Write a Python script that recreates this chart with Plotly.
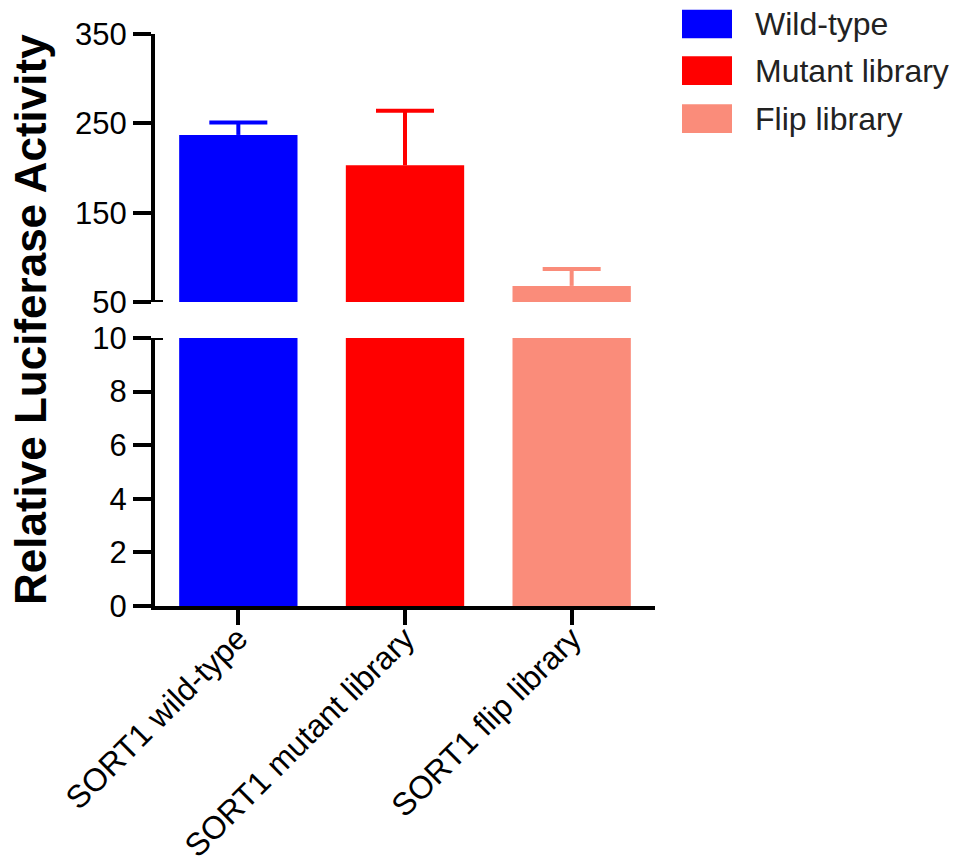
import plotly.graph_objects as go

# ---- data ----
categories = ["SORT1 wild-type", "SORT1 mutant library", "SORT1 flip library"]
series_names = ["Wild-type", "Mutant library", "Flip library"]
values = [237, 203, 68]
errors = [14, 61, 19]
colors = ["#0000FF", "#FF0000", "#FA8C7A"]
lower_ticks = [0, 2, 4, 6, 8, 10]
upper_ticks = [50, 150, 250, 350]
y_title = "Relative Luciferase Activity"

FONT = "Arial, 'Liberation Sans', sans-serif"

fig = go.Figure()
for name, cat, v, e, c in zip(series_names, categories, values, errors, colors):
    # lower segment (0-10)
    fig.add_trace(go.Bar(x=[cat], y=[v], name=name, marker=dict(color=c, line=dict(width=0)),
                         xaxis="x", yaxis="y", showlegend=False, hoverinfo="skip"))
    # upper segment (50-350) with upward error stem (no caps)
    fig.add_trace(go.Bar(x=[cat], y=[v], name=name, marker=dict(color=c, line=dict(width=0)),
                         xaxis="x", yaxis="y2", showlegend=False,
                         error_y=dict(type="data", array=[e], arrayminus=[0], symmetric=False,
                                      color=c, thickness=4, width=0)))
    # cap at the top of the error bar
    fig.add_trace(go.Scatter(x=[cat], y=[v + e], mode="markers", marker=dict(size=1, opacity=0),
                             xaxis="x", yaxis="y2", showlegend=False, hoverinfo="skip",
                             error_y=dict(type="data", array=[0], symmetric=True,
                                          color=c, thickness=4, width=29)))

axis_common = dict(showline=True, linecolor="black", linewidth=4, ticks="outside",
                   ticklen=18, tickwidth=4, tickcolor="black", showgrid=False, zeroline=False,
                   automargin=False,
                   tickfont=dict(family=FONT, size=31, color="black"))

fig.update_layout(
    width=960, height=867,
    margin=dict(l=155, r=305, t=34, b=261),
    plot_bgcolor="white", paper_bgcolor="white",
    barmode="overlay", bargap=0.29,
    xaxis=dict(type="category", categoryorder="array", categoryarray=categories,
               range=[-0.5, 2.5], showline=True, linecolor="black", linewidth=4,
               ticks="outside", ticklen=15, tickwidth=4, tickcolor="black",
               tickangle=-45, showgrid=False, anchor="y", automargin=False,
               ticklabelstandoff=-18,
               tickfont=dict(family=FONT, size=32, color="black")),
    yaxis=dict(domain=[0, 0.4685], range=[0, 10], tickvals=lower_ticks, anchor="x", **axis_common),
    yaxis2=dict(domain=[0.5315, 1], range=[50, 350], tickvals=upper_ticks, anchor="x", **axis_common),
    showlegend=False,
)

# axis break marks (short stubs to the right of the y-axis at the break)
fig.add_shape(type="line", xref="paper", yref="y2", x0=0, x1=0.016, y0=50, y1=50,
              line=dict(color="black", width=4))
fig.add_shape(type="line", xref="paper", yref="y", x0=0, x1=0.016, y0=10, y1=10,
              line=dict(color="black", width=4))

# y-axis title spanning both segments
fig.add_annotation(text="<b>%s</b>" % y_title, xref="paper", yref="paper", x=-0.25, y=0.5,
                   textangle=-90, showarrow=False, xanchor="center", yanchor="middle",
                   font=dict(family=FONT, size=44, color="black"))

# custom legend with large swatches
row_y = [1.0175, 0.936, 0.852]
for name, c, yc in zip(series_names, colors, row_y):
    fig.add_shape(type="rect", xref="paper", yref="paper", x0=1.054, x1=1.154,
                  y0=yc - 0.025, y1=yc + 0.025, fillcolor=c, line=dict(width=0))
    fig.add_annotation(text=name, xref="paper", yref="paper", x=1.196, y=yc,
                       showarrow=False, xanchor="left", yanchor="middle",
                       font=dict(family=FONT, size=32, color="#222222"))

fig.write_html("out.html")
